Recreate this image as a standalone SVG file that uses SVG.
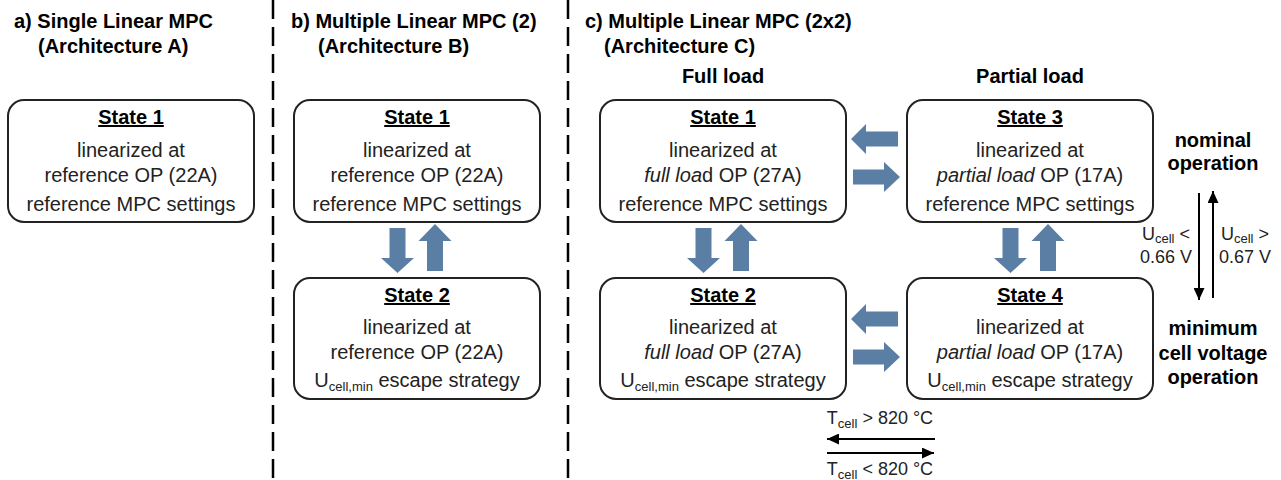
<svg xmlns="http://www.w3.org/2000/svg" width="1281" height="480" viewBox="0 0 1281 480">
<defs>
<style>
text{font-family:"Liberation Sans",Arial,sans-serif;}
.h{font-size:20px;font-weight:bold;fill:#000;}
.t{font-size:20px;fill:#222;text-anchor:middle;}
.st{font-size:20px;font-weight:bold;fill:#000;text-anchor:middle;text-decoration:underline;}
.lab{font-size:18px;fill:#222;text-anchor:middle;}
.side{font-size:20px;font-weight:bold;fill:#000;text-anchor:middle;}
.box{fill:#fff;stroke:#222;stroke-width:2;}
.blk{fill:#5b7fa4;}
.thin{stroke:#000;stroke-width:2;fill:none;marker-end:url(#ah);}
.dash{stroke:#000;stroke-width:2.5;stroke-dasharray:19 8;}
.sub{font-size:13px;}
</style>
<marker id="ah" markerUnits="userSpaceOnUse" markerWidth="12" markerHeight="11" refX="12" refY="5.5" orient="auto">
<path d="M0,0 L12,5.5 L0,11 z" fill="#000"/>
</marker>
<polygon id="down" points="389.5,228 405.5,228 405.5,258 414,258 397.5,273 381,258 389.5,258"/>
<polygon id="up" points="435,224 451.5,241 443,241 443,271 427,271 427,241 418.5,241"/>
<polygon id="left" points="851,139 866,124 866,131.5 898,131.5 898,146.5 866,146.5 866,154"/>
<polygon id="right" points="853,169.5 884,169.5 884,162 900,177 884,192 884,184.5 853,184.5"/>
</defs>
<rect width="1281" height="480" fill="#fff"/>

<g id="separators">
<line class="dash" x1="273" y1="0" x2="273" y2="480"/>
<line class="dash" x1="568" y1="0" x2="568" y2="480"/>
</g>

<g id="headings">
<text class="h" x="14" y="28">a) Single Linear MPC</text>
<text class="h" x="38" y="53">(Architecture A)</text>
<text class="h" x="291" y="28">b) Multiple Linear MPC (2)</text>
<text class="h" x="318" y="53">(Architecture B)</text>
<text class="h" x="585" y="28">c) Multiple Linear MPC (2x2)</text>
<text class="h" x="604" y="53">(Architecture C)</text>
<text class="side" x="723" y="83">Full load</text>
<text class="side" x="1030" y="83">Partial load</text>
<text class="side" x="1213" y="147">nominal</text>
<text class="side" x="1213" y="170">operation</text>
<text class="side" x="1213" y="335">minimum</text>
<text class="side" x="1213" y="360">cell voltage</text>
<text class="side" x="1213" y="384">operation</text>
</g>

<g id="nodeA1">
<rect class="box" x="8" y="100" width="246" height="122" rx="16"/>
<text class="st" x="131" y="124">State 1</text>
<text class="t" x="131" y="157">linearized at</text>
<text class="t" x="131" y="182">reference OP (22A)</text>
<text class="t" x="131" y="211">reference MPC settings</text>
</g>

<g id="nodeB1">
<rect class="box" x="294" y="100" width="246" height="122" rx="16"/>
<text class="st" x="417" y="124">State 1</text>
<text class="t" x="417" y="157">linearized at</text>
<text class="t" x="417" y="182">reference OP (22A)</text>
<text class="t" x="417" y="211">reference MPC settings</text>
</g>

<g id="nodeB2">
<rect class="box" x="294" y="278" width="246" height="121" rx="16"/>
<text class="st" x="417" y="302">State 2</text>
<text class="t" x="417" y="334">linearized at</text>
<text class="t" x="417" y="359">reference OP (22A)</text>
<text class="t" x="417" y="387">U<tspan class="sub" dy="4">cell,min</tspan><tspan dy="-4"> escape strategy</tspan></text>
</g>

<g id="nodeC1">
<rect class="box" x="600" y="100" width="246" height="122" rx="16"/>
<text class="st" x="723" y="124">State 1</text>
<text class="t" x="723" y="157">linearized at</text>
<text class="t" x="723" y="182"><tspan font-style="italic">full loa</tspan>d OP (27A)</text>
<text class="t" x="723" y="211">reference MPC settings</text>
</g>

<g id="nodeC3">
<rect class="box" x="907" y="100" width="246" height="122" rx="16"/>
<text class="st" x="1030" y="124">State 3</text>
<text class="t" x="1030" y="157">linearized at</text>
<text class="t" x="1030" y="182"><tspan font-style="italic">partial load</tspan> OP (17A)</text>
<text class="t" x="1030" y="211">reference MPC settings</text>
</g>

<g id="nodeC2">
<rect class="box" x="600" y="278" width="246" height="121" rx="16"/>
<text class="st" x="723" y="302">State 2</text>
<text class="t" x="723" y="334">linearized at</text>
<text class="t" x="723" y="359"><tspan font-style="italic">full load</tspan> OP (27A)</text>
<text class="t" x="723" y="387">U<tspan class="sub" dy="4">cell,min</tspan><tspan dy="-4"> escape strategy</tspan></text>
</g>

<g id="nodeC4">
<rect class="box" x="907" y="278" width="246" height="121" rx="16"/>
<text class="st" x="1030" y="302">State 4</text>
<text class="t" x="1030" y="334">linearized at</text>
<text class="t" x="1030" y="359"><tspan font-style="italic">partial load</tspan> OP (17A)</text>
<text class="t" x="1030" y="387">U<tspan class="sub" dy="4">cell,min</tspan><tspan dy="-4"> escape strategy</tspan></text>
</g>

<g id="connectors">
<g class="blk">
<use href="#down"/>
<use href="#up"/>
<use href="#down" transform="translate(306,0)"/>
<use href="#up" transform="translate(306,0)"/>
<use href="#down" transform="translate(613,0)"/>
<use href="#up" transform="translate(613,0)"/>
<use href="#left"/>
<use href="#right"/>
<use href="#left" transform="translate(0,180)"/>
<use href="#right" transform="translate(0,180)"/>
</g>
<line class="thin" x1="1199" y1="193" x2="1199" y2="300"/>
<line class="thin" x1="1213" y1="298" x2="1213" y2="191"/>
<line class="thin" x1="935" y1="439" x2="827" y2="439"/>
<line class="thin" x1="827" y1="453" x2="934" y2="453"/>
<text class="lab" x="1166" y="240">U<tspan class="sub" dy="3">cell</tspan><tspan dy="-3"> &lt;</tspan></text>
<text class="lab" x="1166" y="263">0.66 V</text>
<text class="lab" x="1245" y="240">U<tspan class="sub" dy="3">cell</tspan><tspan dy="-3"> &gt;</tspan></text>
<text class="lab" x="1245" y="263">0.67 V</text>
<text class="lab" x="880" y="424">T<tspan class="sub" dy="4">cell</tspan><tspan dy="-4"> &gt; 820 °C</tspan></text>
<text class="lab" x="880" y="475">T<tspan class="sub" dy="4">cell</tspan><tspan dy="-4"> &lt; 820 °C</tspan></text>
</g>
</svg>
